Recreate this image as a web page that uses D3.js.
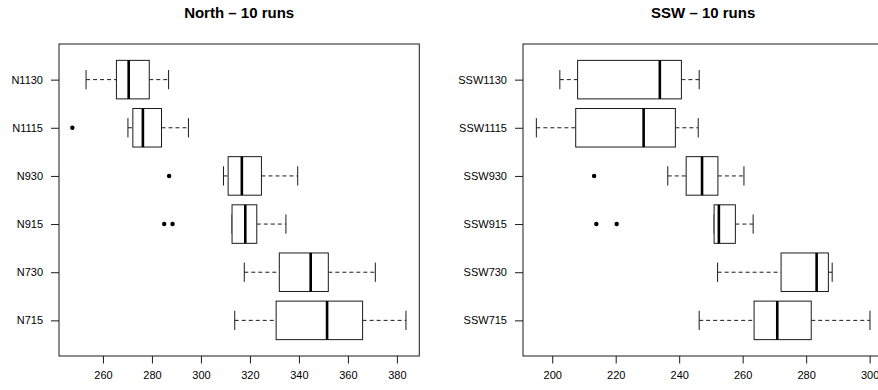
<!DOCTYPE html>
<html>
<head>
<meta charset="utf-8">
<script src="https://cdn.jsdelivr.net/npm/d3@7"></script>
<style>
body { margin: 0; background: #fff; }
text { font-family: "Liberation Sans", Arial, Helvetica, sans-serif; }
</style>
</head>
<body>
<div id="chart"></div>
<script>
// box statistics, listed bottom to top as R draws them
var northNames = ["N715", "N730", "N915", "N930", "N1115", "N1130"];
var northLow   = [313.8, 317.7, 312.7, 309.2, 270.2, 253.1];
var northQ1    = [330.7, 332.0, 312.7, 311.1, 272.2, 265.5];
var northMed   = [351.5, 344.8, 318.1, 316.7, 276.3, 270.5];
var northQ3    = [366.0, 352.0, 322.8, 324.7, 283.9, 278.9];
var northHigh  = [383.7, 371.2, 334.7, 339.5, 294.9, 286.8];
var northOut   = [[], [], [285.0, 288.4], [287.0], [247.5], []];
var northTicks = [260, 280, 300, 320, 340, 360, 380];

var sswNames = ["SSW715", "SSW730", "SSW915", "SSW930", "SSW1115", "SSW1130"];
var sswLow   = [246.3, 252.1, 251.0, 236.4, 195.0, 202.4];
var sswQ1    = [263.6, 272.1, 251.0, 242.2, 207.4, 208.0];
var sswMed   = [270.9, 283.3, 252.5, 247.2, 228.8, 233.9];
var sswQ3    = [281.6, 287.0, 257.7, 252.2, 238.8, 240.7];
var sswHigh  = [300.1, 288.2, 263.3, 260.4, 246.0, 246.3];
var sswOut   = [[], [], [213.9, 220.3], [213.2], [], []];
var sswTicks = [200, 220, 240, 260, 280, 300];

var width = 878, height = 390;
var svg = d3.select("#chart").append("svg")
	.attr("width", width)
	.attr("height", height);

function drawPanel(left, title, names, low, q1, med, q3, high, outs, ticks)
{
	var top = 44, bottom = 356, pw = 360.3;
	var n = names.length;
	var ink = "#1a1a1a";

	// R style: data range padded by 4% on each side
	var all = low.concat(high, d3.merge(outs));
	var ext = d3.extent(all);
	var pad = (ext[1] - ext[0]) * 0.04;
	var x = d3.scaleLinear().domain([ext[0] - pad, ext[1] + pad]).range([left, left + pw]);
	var y = d3.scaleLinear().domain([0.5 - 0.24, n + 0.5 + 0.24]).range([bottom, top]);

	var g = svg.append("g");
	var bh = (y(0) - y(0.8)) / 2;   // half box height (boxwex 0.8)
	var sh = bh / 2;                // staple half length

	g.append("text")
		.attr("x", left + pw / 2)
		.attr("y", 18)
		.attr("text-anchor", "middle")
		.style("font-weight", "bold")
		.style("font-size", "15px")
		.text(title);

	var rows = d3.range(n).map(function(i) {
		return {name: names[i], pos: i + 1, low: low[i], q1: q1[i], med: med[i], q3: q3[i], high: high[i], outs: outs[i]};
	});

	var box = g.selectAll(".bx").data(rows).enter().append("g").attr("class", "bx");

	// whiskers
	box.append("line")
		.attr("x1", function(d) { return x(d.low); })
		.attr("x2", function(d) { return x(d.q1); })
		.attr("y1", function(d) { return y(d.pos); })
		.attr("y2", function(d) { return y(d.pos); })
		.attr("stroke", ink).attr("stroke-dasharray", "4,3");
	box.append("line")
		.attr("x1", function(d) { return x(d.q3); })
		.attr("x2", function(d) { return x(d.high); })
		.attr("y1", function(d) { return y(d.pos); })
		.attr("y2", function(d) { return y(d.pos); })
		.attr("stroke", ink).attr("stroke-dasharray", "4,3");
	// staples
	["low", "high"].forEach(function(k) {
		box.append("line")
			.attr("x1", function(d) { return x(d[k]); })
			.attr("x2", function(d) { return x(d[k]); })
			.attr("y1", function(d) { return y(d.pos) - sh; })
			.attr("y2", function(d) { return y(d.pos) + sh; })
			.attr("stroke", ink);
	});
	box.append("rect")
		.attr("x", function(d) { return x(d.q1); })
		.attr("width", function(d) { return x(d.q3) - x(d.q1); })
		.attr("y", function(d) { return y(d.pos) - bh; })
		.attr("height", 2 * bh)
		.attr("fill", "#fff")
		.attr("stroke", ink);
	box.append("line")
		.attr("x1", function(d) { return x(d.med); })
		.attr("x2", function(d) { return x(d.med); })
		.attr("y1", function(d) { return y(d.pos) - bh; })
		.attr("y2", function(d) { return y(d.pos) + bh; })
		.attr("stroke", "#000").attr("stroke-width", 2.6);
	box.selectAll("circle")
		.data(function(d) { return d.outs.map(function(v) { return {v: v, pos: d.pos}; }); })
		.enter().append("circle")
		.attr("cx", function(d) { return x(d.v); })
		.attr("cy", function(d) { return y(d.pos); })
		.attr("r", 2.2)
		.attr("fill", "#000");

	// frame
	g.append("rect")
		.attr("x", left).attr("y", top)
		.attr("width", pw).attr("height", bottom - top)
		.attr("fill", "none").attr("stroke", ink);

	// axes
	var xAxis = d3.axisBottom(x).tickValues(ticks).tickSize(7.5).tickPadding(8).tickFormat(d3.format("d"));
	var ax = g.append("g").attr("transform", "translate(0," + bottom + ")").call(xAxis);
	ax.select(".domain").remove();
	ax.selectAll("line").attr("stroke", ink);
	ax.selectAll("text").style("font-size", "11px").attr("fill", "#000");

	var yAxis = d3.axisLeft(y).tickValues(d3.range(1, n + 1)).tickSize(8).tickPadding(8)
		.tickFormat(function(v) { return names[v - 1]; });
	var ay = g.append("g").attr("transform", "translate(" + left + ",0)").call(yAxis);
	ay.select(".domain").remove();
	ay.selectAll("line").attr("stroke", ink);
	ay.selectAll("text").style("font-size", "11px").attr("fill", "#000");
}

drawPanel(59, "North \u2013 10 runs", northNames, northLow, northQ1, northMed, northQ3, northHigh, northOut, northTicks);
drawPanel(523, "SSW \u2013 10 runs", sswNames, sswLow, sswQ1, sswMed, sswQ3, sswHigh, sswOut, sswTicks);
</script>
</body>
</html>
